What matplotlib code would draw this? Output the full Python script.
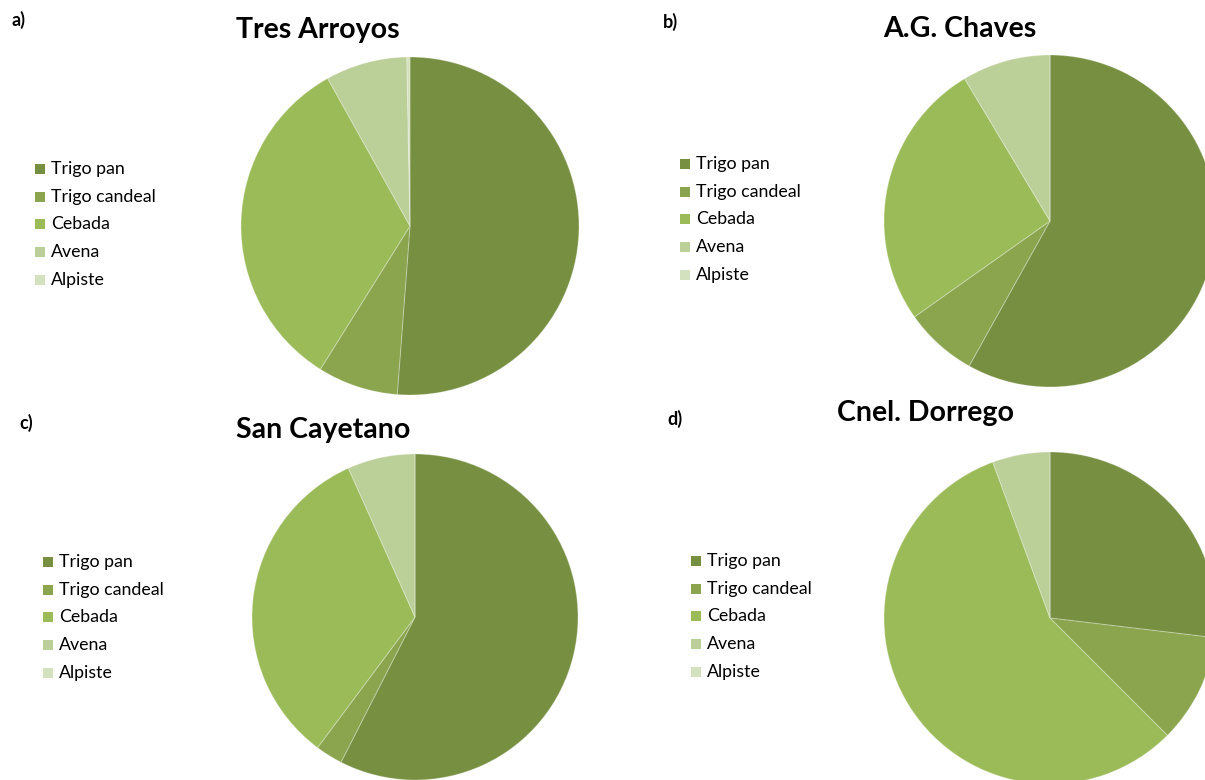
import matplotlib.pyplot as plt
from matplotlib.patches import Rectangle

plt.rcParams['font.family'] = ['Lato', 'DejaVu Sans']

# --------        data        --------
crops = ['Trigo pan', 'Trigo candeal', 'Cebada', 'Avena', 'Alpiste']
tres_arroyos = [51.2, 7.7, 33.0, 7.8, 0.3]
ag_chaves = [58.1, 7.1, 26.2, 8.6, 0.0]
san_cayetano = [57.5, 2.7, 33.1, 6.7, 0.0]
cnel_dorrego = [26.9, 10.6, 56.9, 5.6, 0.0]

titles = ['Tres Arroyos', 'A.G. Chaves', 'San Cayetano', 'Cnel. Dorrego']
letters = ['a)', 'b)', 'c)', 'd)']
colors = ['#768F41', '#8AA54E', '#9BBB59', '#BBCF98', '#D4E1BF']

W, H = 1205, 780

# --------        layout (pixels, top-left origin)        --------
panels = [
    dict(values=tres_arroyos, center=(410, 226), r=169, title=(318, 30), letter=(18, 20), legend=(40, 169)),
    dict(values=ag_chaves, center=(1050, 221), r=166, title=(960, 29), letter=(670, 22), legend=(685, 164)),
    dict(values=san_cayetano, center=(415, 617), r=163, title=(323, 430), letter=(26, 423), legend=(48, 562)),
    dict(values=cnel_dorrego, center=(1050, 618), r=166, title=(925, 413), letter=(675, 419), legend=(696, 561)),
]

fig = plt.figure(figsize=(W / 100, H / 100), dpi=100)

for p, title, letter in zip(panels, titles, letters):
    cx, cy = p['center']
    r = p['r']
    ax = fig.add_axes([(cx - r) / W, 1 - (cy + r) / H, 2 * r / W, 2 * r / H])
    ax.pie(
        p['values'], colors=colors, startangle=90, counterclock=False,
        radius=1, wedgeprops=dict(edgecolor=(1, 1, 1, 0.25), linewidth=0.8),
    )
    ax.set_xlim(-1, 1)
    ax.set_ylim(-1, 1)
    ax.set_axis_off()

    tx, ty = p['title']
    fig.text(tx / W, 1 - ty / H, title, ha='center', va='center', fontsize=20.5, fontweight='bold')
    lx, ly = p['letter']
    fig.text(lx / W, 1 - ly / H, letter, ha='center', va='center', fontsize=13, fontweight='bold')

    # legend
    gx, gy = p['legend']
    for i, (name, color) in enumerate(zip(crops, colors)):
        y = gy + i * 27.7
        fig.patches.append(Rectangle(
            ((gx - 5) / W, 1 - (y + 5) / H), 10 / W, 10 / H,
            transform=fig.transFigure, facecolor=color, edgecolor='none',
        ))
        fig.text((gx + 11) / W, 1 - y / H, name, ha='left', va='center', fontsize=12.8)

fig.savefig('out.png', dpi=100)
